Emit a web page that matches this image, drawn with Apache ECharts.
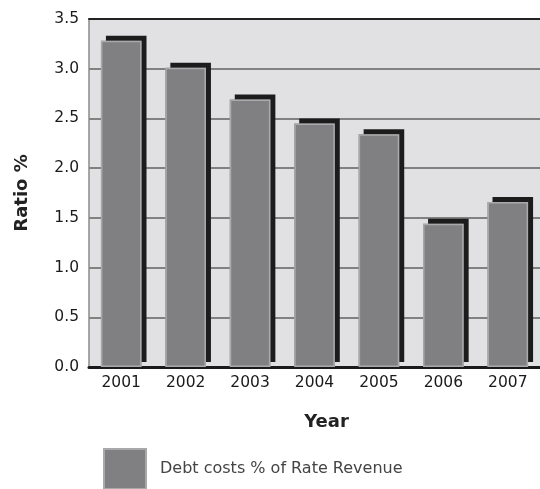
<!DOCTYPE html>
<html>
<head>
<meta charset="utf-8">
<script src="https://cdn.jsdelivr.net/npm/echarts@6/dist/echarts.min.js"></script>
<style>
  html, body { margin: 0; padding: 0; background: #fff; }
  #chart { width: 540px; height: 489px; }
</style>
</head>
<body>
<div id="chart"></div>
<script>
const years = ['2001', '2002', '2003', '2004', '2005', '2006', '2007'];
const debtRatio = [3.28, 3.01, 2.69, 2.45, 2.34, 1.44, 1.66];
const seriesName = 'Debt costs % of Rate Revenue';

const chart = echarts.init(document.getElementById('chart'));

const font = '"DejaVu Sans", sans-serif';

const option = {
  animation: false,
  textStyle: { fontFamily: font },
  grid: {
    left: 89,
    right: -4,
    top: 19,
    bottom: 122,
    show: true,
    backgroundColor: '#e1e1e3',
    borderWidth: 0
  },
  legend: {
    left: 98,
    top: 443,
    itemWidth: 42,
    itemHeight: 40,
    icon: 'rect',
    textStyle: {
      fontFamily: font,
      fontSize: 16,
      color: '#444',
      padding: [0, 0, 0, 9]
    },
    data: [seriesName]
  },
  xAxis: [{
    type: 'category',
    data: years,
    name: 'Year',
    nameLocation: 'middle',
    nameGap: 46,
    nameTextStyle: {
      fontSize: 18,
      fontWeight: 'bold',
      color: '#222',
      padding: [0, 0, 0, 24]
    },
    axisLine: { lineStyle: { color: '#1a1a1a', width: 3 } },
    axisTick: { show: false },
    axisLabel: { fontSize: 15.5, color: '#1a1a1a', margin: 8 }
  }, {
    // dark frame line along the top of the plot
    type: 'category',
    data: years,
    position: 'top',
    axisLine: { lineStyle: { color: '#222', width: 2 } },
    axisTick: { show: false },
    axisLabel: { show: false }
  }],
  yAxis: {
    type: 'value',
    min: 0,
    max: 3.5,
    interval: 0.5,
    name: 'Ratio %',
    nameLocation: 'middle',
    nameGap: 58,
    nameTextStyle: {
      fontSize: 18,
      fontWeight: 'bold',
      color: '#222'
    },
    axisLine: { show: true, lineStyle: { color: '#8a8a8a', width: 1.5 } },
    axisTick: { show: false },
    axisLabel: {
      fontSize: 15.5,
      color: '#1a1a1a',
      margin: 10,
      formatter: (v) => v.toFixed(1)
    },
    splitLine: { lineStyle: { color: '#606060', width: 1.5 } }
  },
  series: [{
    // black drop shadow behind each bar
    name: 'shadow',
    type: 'bar',
    data: debtRatio,
    barCategoryGap: '37%',
    silent: true,
    itemStyle: {
      color: '#808083',
      shadowColor: '#1c1c1c',
      shadowBlur: 0,
      shadowOffsetX: 5,
      shadowOffsetY: -5
    }
  }, {
    name: seriesName,
    type: 'bar',
    data: debtRatio,
    barGap: '-100%',
    barCategoryGap: '37%',
    itemStyle: {
      color: '#808083',
      borderColor: '#a9a9ab',
      borderWidth: 1.5
    }
  }]
};

chart.setOption(option);
</script>
</body>
</html>
